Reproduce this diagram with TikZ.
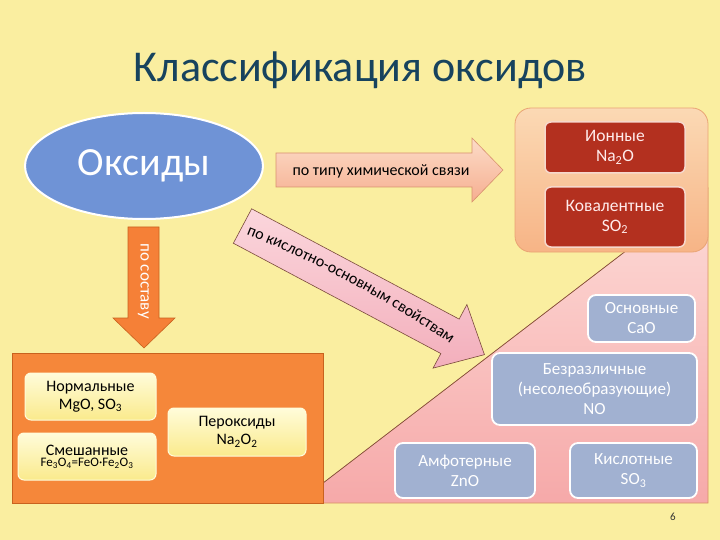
\documentclass[tikz,border=0pt]{standalone}
\usepackage{fontspec}
\setmainfont{Carlito}
\usetikzlibrary{shapes.geometric,decorations.text}
\definecolor{bg}{HTML}{FAEEA0}
\definecolor{titlecol}{HTML}{17435E}
\definecolor{ellfill}{HTML}{6F93D6}
\definecolor{orfill}{HTML}{F5873A}
\definecolor{orline}{HTML}{C8621E}
\definecolor{ylwtop}{HTML}{FFFCDA}
\definecolor{ylwbot}{HTML}{FAEA8C}
\definecolor{peachtop}{HTML}{FBD9B4}
\definecolor{peachbot}{HTML}{F7B486}
\definecolor{peachline}{HTML}{E9A474}
\definecolor{redfill}{HTML}{B3301F}
\definecolor{redline}{HTML}{F6D8CC}
\definecolor{pinktop}{HTML}{FDDCD8}
\definecolor{pinkbot}{HTML}{F6A9A9}
\definecolor{bluefill}{HTML}{A1B1D1}
\definecolor{harrtop}{HTML}{FCDCC8}
\definecolor{harrbot}{HTML}{F6AE90}
\definecolor{harrline}{HTML}{D8926E}
\definecolor{darrtop}{HTML}{FBD6DC}
\definecolor{darrbot}{HTML}{F3AFBC}
\definecolor{darrline}{HTML}{7A4A3A}
\begin{document}
\begin{tikzpicture}[x=1pt,y=-1pt,
  ylwbox/.style={rounded corners=6pt, top color=ylwtop, bottom color=ylwbot, draw=ylwtop, line width=1pt},
  redbox/.style={rounded corners=6pt, fill=redfill, draw=redline, line width=1.5pt},
  bluebox/.style={rounded corners=8pt, fill=bluefill, draw=white, line width=1.8pt},
  blacktxt/.style={align=center, font=\fontsize{16}{18}\selectfont, text=black, inner sep=0pt},
  whitetxt/.style={align=center, font=\fontsize{17}{20}\selectfont, text=white, inner sep=0pt},
  redtxt/.style={align=center, font=\fontsize{17.5}{20}\selectfont, text=white!92!red, inner sep=0pt}]
\useasboundingbox (0,0) rectangle (720,540);
\fill[bg] (0,0) rectangle (720,540);

% title
\node[text=titlecol, font=\fontsize{44}{48}\selectfont, inner sep=0pt] (title) at (360,70) {Классификация оксидов};

% pink triangle (acid-base region)
\path[top color=pinktop, bottom color=pinkbot, draw=orline!70, line width=0.6pt]
  (297,503) -- (708,503) -- (708,188) -- cycle;
\draw[darrline, line width=0.6pt] (297,503) -- (708,188);

% peach region (bond type)
\path[rounded corners=16pt, top color=peachtop, bottom color=peachbot, draw=peachline, line width=0.8pt]
  (515,108) rectangle (708,252);
\draw[redbox] (545,122) rectangle (685,173);
\node[redtxt] (ion) at (615,147.5) {Ионные\\Na\textsubscript{2}O};
\draw[redbox] (545,187) rectangle (685,247);
\node[redtxt] (cov) at (615,217) {Ковалентные\\SO\textsubscript{2}};

% ellipse
\node[ellipse, fill=ellfill, draw=white, line width=2pt, minimum width=238pt, minimum height=106pt,
  text=white, font=\fontsize{40}{44}\selectfont] (ox) at (144,166) {Оксиды};

% horizontal arrow
\path[top color=harrtop, bottom color=harrbot, draw=harrline, line width=0.6pt]
  (276,153) -- (472,153) -- (472,138) -- (503,170) -- (472,202) -- (472,187) -- (276,187) -- cycle;
\node[text=black, font=\fontsize{16}{18}\selectfont, inner sep=0pt] (bondlbl) at (381,171) {по типу химической связи};

% vertical arrow
\path[fill=orfill!95!red, draw=orline, line width=0.6pt]
  (128,227) -- (159,227) -- (159,318) -- (175,318) -- (144,348) -- (113,318) -- (128,318) -- cycle;
\node[rotate=-90, text=white, font=\fontsize{17}{19}\selectfont, inner sep=0pt] (complbl) at (143.5,281) {по составу};

% orange composition region
\path[fill=orfill, draw=orline, line width=1pt] (12,353) rectangle (323,503);
\draw[ylwbox] (25,373) rectangle (156,420);
\node[blacktxt] (norm) at (90.5,396.5) {Нормальные\\MgO, SO\textsubscript{3}};
\draw[ylwbox] (18,433) rectangle (156,480);
\node[align=center, text=black, inner sep=0pt] (mixed) at (87,456.5)
  {\fontsize{16}{18}\selectfont Смешанные\\[-1pt]\fontsize{13}{15}\selectfont Fe\textsubscript{3}O\textsubscript{4}=FeO·Fe\textsubscript{2}O\textsubscript{3}};
\draw[ylwbox] (168,408) rectangle (306,456);
\node[blacktxt] (perox) at (237,432) {Пероксиды\\Na\textsubscript{2}O\textsubscript{2}};

% diagonal arrow
\begin{scope}[shift={(242.5,226)}, rotate=-28]
\path[top color=darrtop, bottom color=darrbot, draw=darrline, line width=0.6pt]
  (0,-19.5) -- (235,-19.5) -- (235,-36) -- (274,0) -- (235,36) -- (235,19.5) -- (0,19.5) -- cycle;
\coordinate (acidA) at (4,6);
\coordinate (acidB) at (242,7);
\path[decorate, decoration={text along path, text align=center,
  text={|\fontsize{16}{18}\selectfont|по кислотно-основным свойствам}}]
  (acidA) .. controls (80,-3) and (162,-3) .. (acidB);
\end{scope}

% blue boxes
\draw[bluebox] (588,295) rectangle (695,342);
\node[whitetxt] (basic) at (641.5,318.5) {Основные\\CaO};
\draw[bluebox] (492,353) rectangle (697,425);
\node[whitetxt] (indiff) at (594.5,389) {Безразличные\\(несолеобразующие)\\NO};
\draw[bluebox] (395,443) rectangle (535,498);
\node[whitetxt] (amph) at (465,470.5) {Амфотерные\\ZnO};
\draw[bluebox] (570,443) rectangle (697,498);
\node[whitetxt] (acid) at (633.5,470.5) {Кислотные\\SO\textsubscript{3}};

% page number
\node[font=\fontsize{11}{12}\selectfont, text=black!80, inner sep=0pt] (pg) at (673,517) {6};
\end{tikzpicture}
\end{document}
